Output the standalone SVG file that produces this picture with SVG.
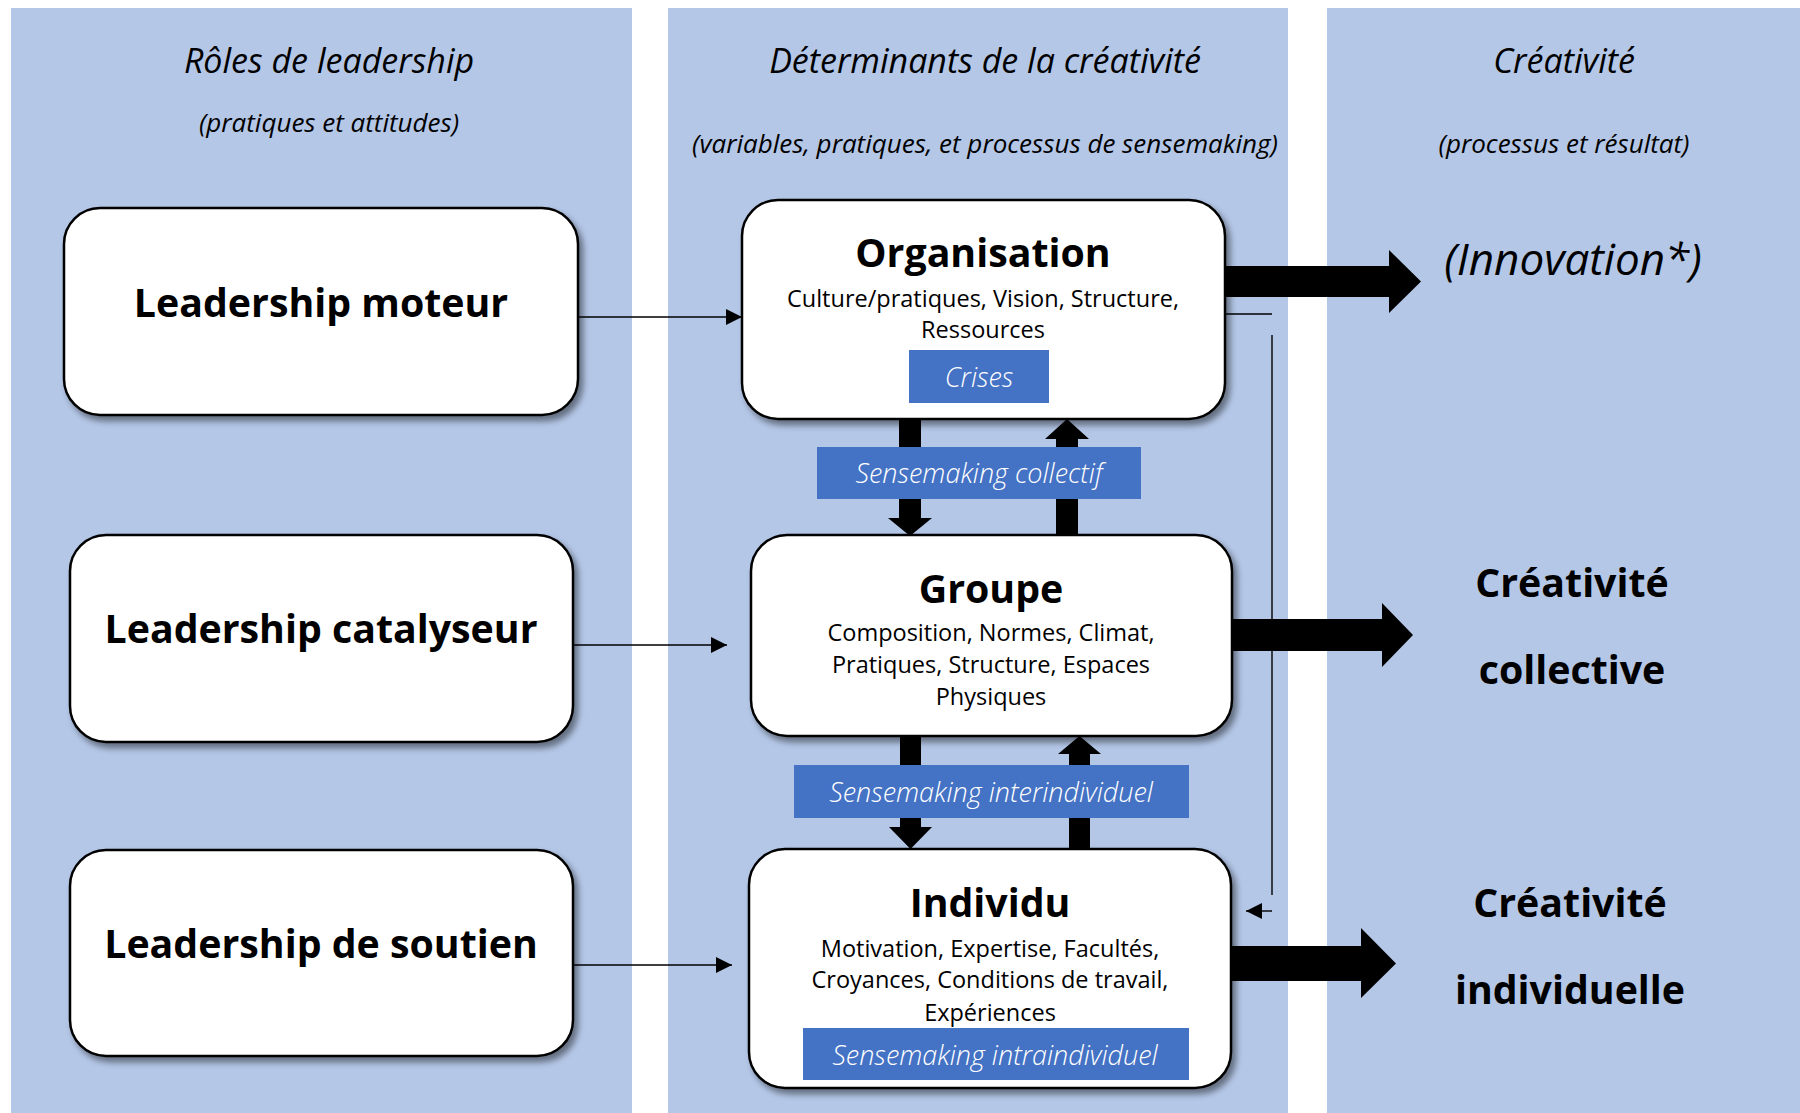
<svg xmlns="http://www.w3.org/2000/svg" width="1800" height="1113" viewBox="0 0 1800 1113">
<defs>
<filter id="sh" x="-10%" y="-10%" width="125%" height="130%">
<feDropShadow dx="4" dy="5" stdDeviation="3" flood-color="#000" flood-opacity="0.45"/>
</filter>
<marker id="ah" markerWidth="16" markerHeight="16" refX="16" refY="8" orient="auto" markerUnits="userSpaceOnUse">
<path d="M0,0 L16,8 L0,16 Z" fill="#000"/>
</marker>
</defs>
<style>
.panel{fill:#B4C7E7}
.box{fill:#fff;stroke:#000;stroke-width:2.5;filter:url(#sh)}
.lab{fill:#4472C4}
.hd{font-family:"Open Sans",sans-serif;font-style:italic;font-weight:400;fill:#000;text-anchor:middle}
.lt{font-family:"Open Sans",sans-serif;font-weight:700;font-size:39.3px;fill:#000;text-anchor:middle}
.tt{font-family:"Open Sans",sans-serif;font-weight:700;font-size:39.3px;fill:#000;text-anchor:middle}
.bd{font-family:"Open Sans",sans-serif;font-size:23.5px;fill:#000;text-anchor:middle}
.wl{font-family:"Open Sans",sans-serif;font-style:italic;font-weight:300;font-size:27px;fill:#fff;text-anchor:middle}
.thin{stroke:#000;stroke-width:1.4;fill:none}
.big{fill:#000}
</style>
<rect width="1800" height="1113" fill="#fff"/>
<g id="panels">
<rect class="panel" x="11" y="8" width="621" height="1105"/>
<rect class="panel" x="668" y="8" width="620" height="1105"/>
<rect class="panel" x="1327" y="8" width="473" height="1105"/>
</g>
<g id="headers">
<text class="hd" x="329" y="73" font-size="34">Rôles de leadership</text>
<text class="hd" x="329" y="132" font-size="26">(pratiques et attitudes)</text>
<text class="hd" x="985" y="73" font-size="34">Déterminants de la créativité</text>
<text class="hd" x="985" y="153" font-size="26">(variables, pratiques, et processus de sensemaking)</text>
<text class="hd" x="1564" y="73" font-size="34">Créativité</text>
<text class="hd" x="1564" y="153" font-size="26">(processus et résultat)</text>
</g>
<g id="connectors">
<line class="thin" x1="578" y1="317" x2="742" y2="317" marker-end="url(#ah)"/>
<line class="thin" x1="573" y1="645" x2="727" y2="645" marker-end="url(#ah)"/>
<line class="thin" x1="573" y1="965" x2="732" y2="965" marker-end="url(#ah)"/>
<line class="thin" x1="1225" y1="314" x2="1272" y2="314" stroke="#333"/>
<line class="thin" x1="1272" y1="335" x2="1272" y2="895"/>
<line class="thin" x1="1272" y1="911" x2="1246" y2="911" marker-end="url(#ah)"/>
<polygon class="big" points="1225,266 1389,266 1389,250 1421,281.5 1389,313 1389,297 1225,297"/>
<polygon class="big" points="1232,619 1382,619 1382,603 1413,635 1382,667 1382,651 1232,651"/>
<polygon class="big" points="1230,946 1361,946 1361,928 1396,963.5 1361,998 1361,981 1230,981"/>
<polygon class="big" points="899,419 921,419 921,518 932,518 910,536 888,518 899,518"/>
<polygon class="big" points="1056,536 1078,536 1078,439 1089,439 1067,419 1045,439 1056,439"/>
<polygon class="big" points="900,736 921,736 921,827 932,827 910.5,849 889,827 900,827"/>
<polygon class="big" points="1069,849 1090,849 1090,754 1101,754 1079.5,736 1058,754 1069,754"/>
</g>
<g id="n-moteur">
<rect class="box" x="64" y="208" width="514" height="207" rx="36"/>
<text class="lt" x="321" y="317">Leadership moteur</text>
</g>
<g id="n-catalyseur">
<rect class="box" x="70" y="535" width="503" height="207" rx="36"/>
<text class="lt" x="321" y="643">Leadership catalyseur</text>
</g>
<g id="n-soutien">
<rect class="box" x="70" y="850" width="503" height="206" rx="36"/>
<text class="lt" x="321" y="958">Leadership de soutien</text>
</g>
<g id="n-organisation">
<rect class="box" x="742" y="200" width="483" height="219" rx="36"/>
<text class="tt" x="983" y="267">Organisation</text>
<text class="bd" x="983" y="307">Culture/pratiques, Vision, Structure,</text>
<text class="bd" x="983" y="338">Ressources</text>
<rect class="lab" x="909" y="350" width="140" height="53"/>
<text class="wl" x="979" y="387">Crises</text>
</g>
<g id="n-collectif">
<rect class="lab" x="817" y="447" width="324" height="52"/>
<text class="wl" x="979" y="483">Sensemaking collectif</text>
</g>
<g id="n-groupe">
<rect class="box" x="751" y="535" width="481" height="201" rx="36"/>
<text class="tt" x="991" y="603">Groupe</text>
<text class="bd" x="991" y="641">Composition, Normes, Climat,</text>
<text class="bd" x="991" y="673">Pratiques, Structure, Espaces</text>
<text class="bd" x="991" y="705">Physiques</text>
</g>
<g id="n-interindividuel">
<rect class="lab" x="794" y="765" width="395" height="53"/>
<text class="wl" x="991" y="802">Sensemaking interindividuel</text>
</g>
<g id="n-individu">
<rect class="box" x="749" y="849" width="482" height="239" rx="36"/>
<text class="tt" x="990" y="917">Individu</text>
<text class="bd" x="990" y="957">Motivation, Expertise, Facultés,</text>
<text class="bd" x="990" y="988">Croyances, Conditions de travail,</text>
<text class="bd" x="990" y="1021">Expériences</text>
<rect class="lab" x="803" y="1028" width="386" height="52"/>
<text class="wl" x="995" y="1065">Sensemaking intraindividuel</text>
</g>
<g id="n-innovation">
<text class="hd" x="1573" y="275" font-size="44">(Innovation*)</text>
</g>
<g id="n-creat-collective">
<text class="tt" x="1572" y="597">Créativité</text>
<text class="tt" x="1572" y="684">collective</text>
</g>
<g id="n-creat-individuelle">
<text class="tt" x="1570" y="917">Créativité</text>
<text class="tt" x="1570" y="1004">individuelle</text>
</g>
</svg>
